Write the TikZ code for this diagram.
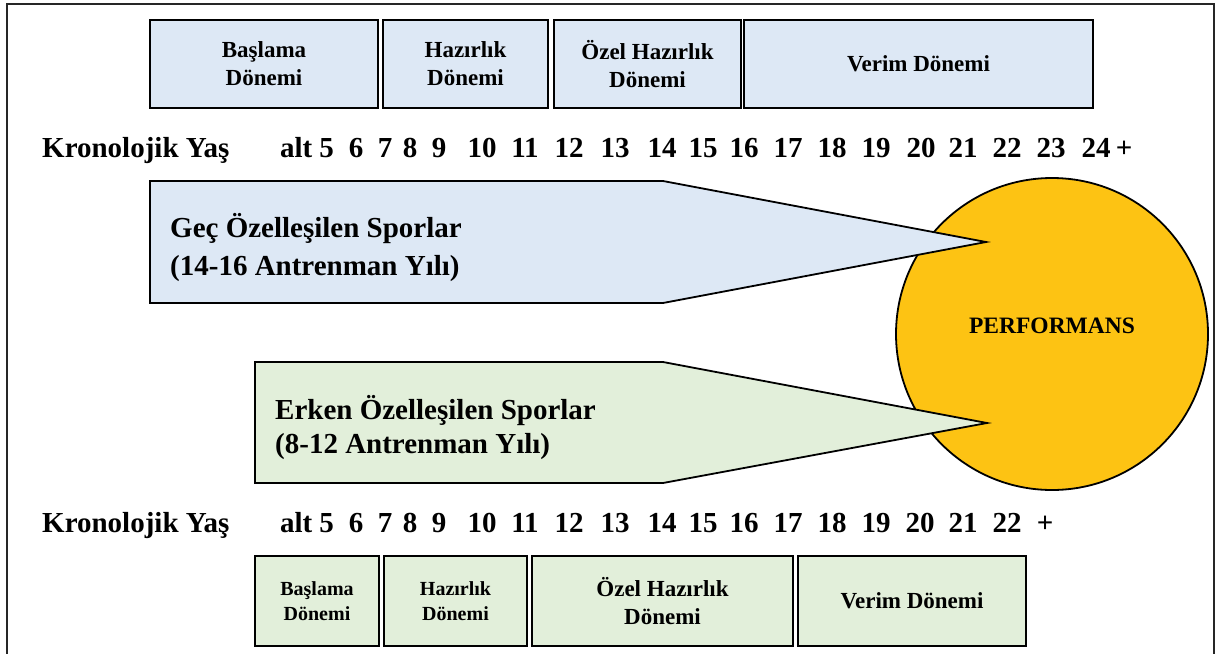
\documentclass[tikz,border=0pt]{standalone}
\usepackage{fontspec}
\setmainfont{Liberation Serif}
\definecolor{boxblue}{HTML}{DDE8F5}
\definecolor{boxgreen}{HTML}{E2EFDA}
\definecolor{perfgold}{HTML}{FDC313}
\begin{document}
\begin{tikzpicture}[x=1pt,y=-1pt,
  period/.style={draw=black, line width=2.6pt, inner sep=0pt, align=center,
    font=\bfseries\fontsize{23}{28}\selectfont},
  topbox/.style={period, fill=boxblue, minimum height=88pt},
  botbox/.style={period, fill=boxgreen, minimum height=90pt},
  age/.style={font=\bfseries\fontsize{29}{34}\selectfont, inner sep=0pt, anchor=base},
  sport/.style={font=\bfseries\fontsize{29}{38}\selectfont, inner sep=0pt, anchor=base west},
  arrowshape/.style={draw=black, line width=1.8pt, line join=miter}
]
\useasboundingbox (0,0) rectangle (1217,653);
% frame
\draw[line width=2pt, draw=black!85] (7,670) -- (7,4) -- (1214,4) -- (1214,670);

% top period boxes
\node[topbox, minimum width=228pt] (t1) at (264,64) {Başlama\\Dönemi};
\node[topbox, minimum width=165pt] (t2) at (465.5,64) {Hazırlık\\Dönemi};
\node[topbox, minimum width=187pt] (t3) at (647.5,64) {Özel Hazırlık\\Dönemi};
\node[topbox, minimum width=349pt] (t4) at (918.5,64) {Verim Dönemi};

% top age row
\node[age, anchor=base west] (k1) at (42,157) {Kronolojik Yaş};
\foreach \lab/\xx [count=\i] in {alt 5/307,6/356,7/385,8/410,9/439,10/482,11/525,12/569,13/615,14/662,15/703,16/744,17/788,18/832,19/876,20/921,21/963,22/1007,23/1051,24/1096,+/1124}
  \node[age] (ta\i) at (\xx,157) {\lab};

% performance circle
\node[circle, draw=black, line width=1.8pt, fill=perfgold, minimum size=312pt, inner sep=0pt] (perf) at (1052,334) {};

% pentagon arrows
\draw[arrowshape, fill=boxblue] (150,181) -- (663,181) -- (986,242) -- (663,303) -- (150,303) -- cycle;
\draw[arrowshape, fill=boxgreen] (255,362) -- (663,362) -- (987,423) -- (663,483) -- (255,483) -- cycle;

\node[font=\bfseries\fontsize{23.5}{28}\selectfont, inner sep=0pt, anchor=base] (ptext) at (1052,333) {PERFORMANS};

\node[sport] (g1) at (170,237) {Geç Özelleşilen Sporlar};
\node[sport] (g2) at (170,275) {(14-16 Antrenman Yılı)};
\node[sport] (e1) at (275,419) {Erken Özelleşilen Sporlar};
\node[sport] (e2) at (275,453) {(8-12 Antrenman Yılı)};

% bottom age row
\node[age, anchor=base west] (k2) at (42,532) {Kronolojik Yaş};
\foreach \lab/\xx [count=\i] in {alt 5/307,6/356,7/385,8/410,9/439,10/482,11/525,12/569,13/615,14/662,15/703,16/744,17/788,18/832,19/876,20/920,21/963,22/1007,+/1045}
  \node[age] (ba\i) at (\xx,532) {\lab};

% bottom period boxes
\node[botbox, minimum width=124pt, font=\bfseries\fontsize{20}{25}\selectfont] (b1) at (317,601) {Başlama\\Dönemi};
\node[botbox, minimum width=143pt, font=\bfseries\fontsize{20}{25}\selectfont] (b2) at (455.5,601) {Hazırlık\\Dönemi};
\node[botbox, minimum width=261pt] (b3) at (662.5,601) {Özel Hazırlık\\Dönemi};
\node[botbox, minimum width=228pt] (b4) at (912,601) {Verim Dönemi};
\end{tikzpicture}
\end{document}
